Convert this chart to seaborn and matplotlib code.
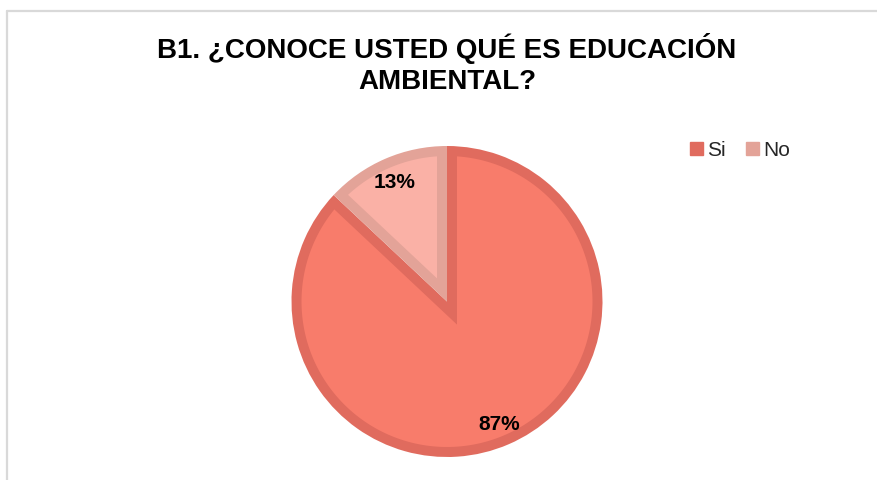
import matplotlib
matplotlib.use("Agg")
import numpy as np
import matplotlib.pyplot as plt
import seaborn as sns
from matplotlib.patches import Patch, Polygon
from matplotlib.lines import Line2D

# Survey answers
categories = ["Si", "No"]
percentages = [87, 13]
fill_colors = ["#F87C6B", "#FAB1A6"]
edge_colors = ["#E06B5E", "#E3A398"]
title_lines = ["B1. ¿CONOCE USTED QUÉ ES EDUCACIÓN", "AMBIENTAL?"]

sns.set_theme(style="white")
plt.rcParams["font.family"] = ["Liberation Sans", "DejaVu Sans"]

W, H = 877, 480
fig = plt.figure(figsize=(W / 100, H / 100), dpi=100)
fig.patch.set_facecolor("white")

# Chart-area frame (top and left edges)
fig.add_artist(Line2D([7 / W, 1], [1 - 11 / H, 1 - 11 / H], color="#D9D9D9", lw=1.6,
                      transform=fig.transFigure))
fig.add_artist(Line2D([7 / W, 7 / W], [0, 1 - 11 / H], color="#D9D9D9", lw=1.6,
                      transform=fig.transFigure))

# Pie axes
cx, cy, r = 447, 301.5, 155.5
ax = fig.add_axes([(cx - r) / W, (H - cy - r) / H, 2 * r / W, 2 * r / H])

# Full wedges in the border colour...
wedges, _ = ax.pie(percentages, colors=edge_colors, startangle=90, counterclock=False,
                   radius=1.0, wedgeprops=dict(linewidth=0))

# ...then each wedge's interior, inset by the border width
border = 10.0 / r
R_in = 1.0 - border
for w, fc in zip(wedges, fill_colors):
    t1, t2 = np.deg2rad(w.theta1), np.deg2rad(w.theta2)
    half = (t2 - t1) / 2
    bis = (t1 + t2) / 2
    apex = border / np.sin(half) * np.array([np.cos(bis), np.sin(bis)])
    u1 = np.array([np.cos(t1), np.sin(t1)])
    n1 = np.array([-u1[1], u1[0]])
    u2 = np.array([np.cos(t2), np.sin(t2)])
    n2 = np.array([u2[1], -u2[0]])
    s = np.sqrt(R_in ** 2 - border ** 2)
    p1 = border * n1 + s * u1
    p2 = border * n2 + s * u2
    a1, a2 = np.arctan2(p1[1], p1[0]), np.arctan2(p2[1], p2[0])
    while a2 < a1:
        a2 += 2 * np.pi
    arc = np.linspace(a1, a2, 200)
    pts = np.vstack([apex, np.column_stack([R_in * np.cos(arc), R_in * np.sin(arc)])])
    ax.add_patch(Polygon(pts, closed=True, facecolor=fc, edgecolor="none"))

# Percentage labels placed at each wedge's mid-angle
start = 90.0
for v in percentages:
    span = 360.0 * v / sum(percentages)
    mid = np.deg2rad(start - span / 2)
    ax.text(0.85 * np.cos(mid), 0.85 * np.sin(mid), f"{v}%", ha="center",
            va="center_baseline", fontsize=15, fontweight="bold", color="black")
    start -= span
ax.set_xlim(-1, 1)
ax.set_ylim(-1, 1)
ax.set_aspect("equal")
ax.axis("off")

# Title
fig.text(cx / W, 1 - 48 / H, title_lines[0], ha="center", va="center",
         fontsize=20, fontweight="bold", color="black")
fig.text(cx / W, 1 - 82 / H, title_lines[1], ha="center", va="center",
         fontsize=20, fontweight="bold", color="black")

# Legend
handles = [Patch(facecolor=ec, edgecolor=ec, label=c) for c, ec in zip(categories, edge_colors)]
fig.legend(handles=handles, loc="center left", bbox_to_anchor=(690 / W, 1 - 150 / H),
           ncol=2, frameon=False, fontsize=15, handlelength=0.6, handleheight=0.6,
           handletextpad=0.2, columnspacing=1.0, borderaxespad=0, borderpad=0)

fig.savefig("out.png", dpi=100, facecolor="white")
